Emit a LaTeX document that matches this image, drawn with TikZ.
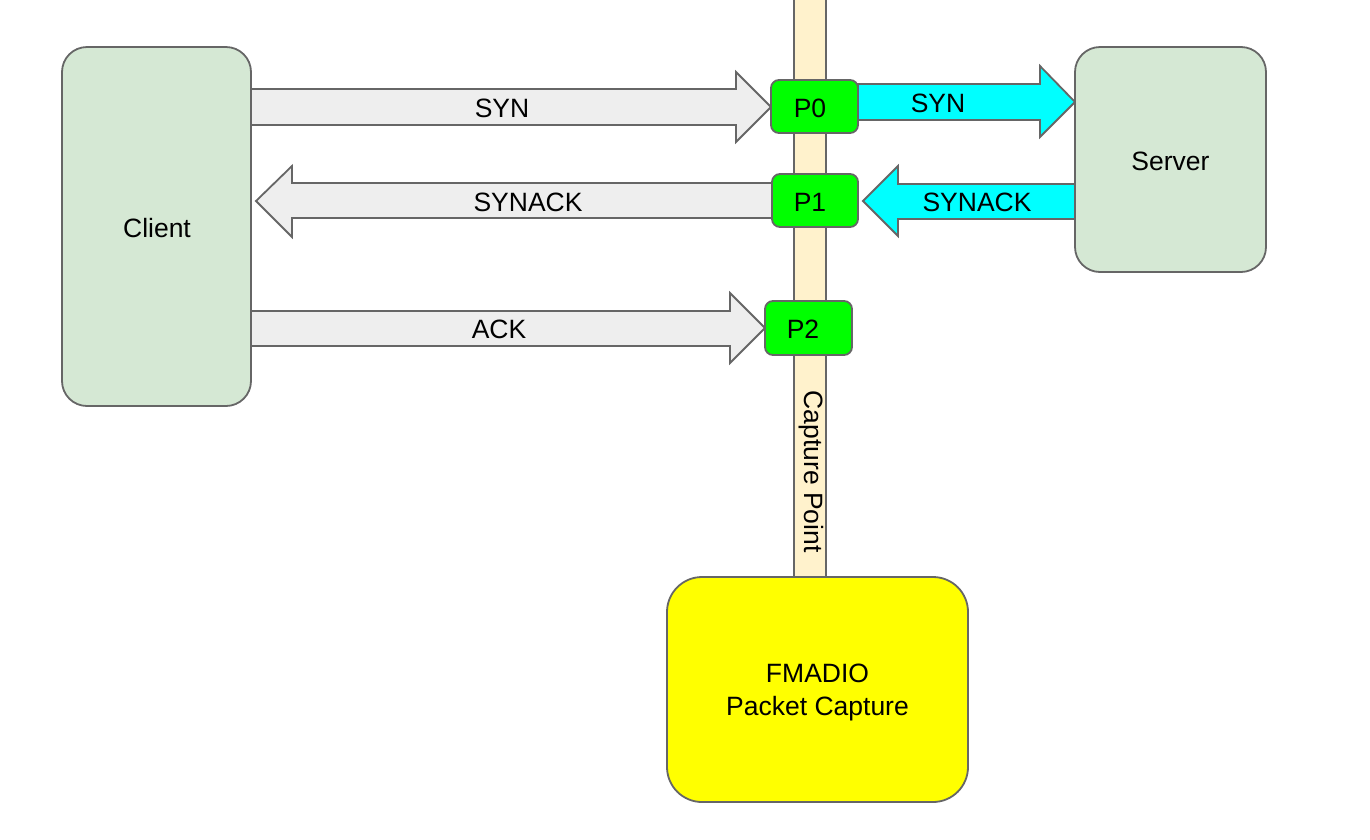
\documentclass[tikz,border=0pt]{standalone}
\usepackage{fontspec}
\setmainfont{Liberation Sans}
\definecolor{edge}{HTML}{666666}
\definecolor{hostfill}{HTML}{D5E8D4}
\definecolor{barfill}{HTML}{FFF2CC}
\definecolor{grayarrow}{HTML}{EEEEEE}
\definecolor{cyanarrow}{HTML}{00FFFF}
\definecolor{portfill}{HTML}{00FF00}
\definecolor{capfill}{HTML}{FFFF00}
\begin{document}
\begin{tikzpicture}[x=1pt,y=-1pt,
  every node/.style={font=\fontsize{26.5}{33}\selectfont, inner sep=0pt},
  hostbox/.style={draw=edge, fill=hostfill, line width=1.8pt, rounded corners=25pt},
  portbox/.style={draw=edge, fill=portfill, line width=1.8pt, rounded corners=8pt, minimum width=87pt, minimum height=53pt},
  blockgray/.style={draw=edge, fill=grayarrow, line width=1.8pt, line join=miter},
  blockcyan/.style={draw=edge, fill=cyanarrow, line width=1.8pt, line join=miter},
  lbl/.style={text=black}]
\useasboundingbox (0,0) rectangle (1370,839);
% capture bar
\node[draw=edge, fill=barfill, line width=1.8pt, minimum width=32pt, minimum height=590pt] (bar) at (810,282) {};
\node[rotate=-90] (cplabel) at (811,471.5) {Capture Point};
% block arrows
\draw[blockgray] (251,89) -- (736,89) -- (736,72) -- (771,107) -- (736,142) -- (736,125) -- (251,125) -- cycle;
\draw[blockgray] (772,183) -- (292,183) -- (292,166) -- (256,201) -- (292,237) -- (292,218) -- (772,218) -- cycle;
\draw[blockgray] (251,311) -- (730,311) -- (730,293) -- (765,328) -- (730,363) -- (730,346) -- (251,346) -- cycle;
\draw[blockcyan] (858,84) -- (1040,84) -- (1040,66) -- (1075,102) -- (1040,137) -- (1040,120) -- (858,120) -- cycle;
\draw[blockcyan] (1075,184) -- (898,184) -- (898,166) -- (863,201) -- (898,236) -- (898,219) -- (1075,219) -- cycle;
% hosts
\node[hostbox, minimum width=189pt, minimum height=359pt] (client) at (156.5,226.5) {};
\node[lbl] (clientlbl) at (157,228.5) {Client};
\node[hostbox, minimum width=191pt, minimum height=225pt] (server) at (1170.5,159.5) {};
\node[lbl] (serverlbl) at (1170.5,161.5) {Server};
\node[draw=edge, fill=capfill, line width=1.8pt, rounded corners=35pt, minimum width=301pt, minimum height=225pt] (fmadio) at (817.5,689.5) {};
\node[lbl, align=center] (fmadiolbl) at (817.5,692) {FMADIO\\Packet Capture};
% ports
\node[portbox] (p0) at (814.5,106.5) {};
\node[lbl] (p0lbl) at (810,108.5) {P0};
\node[portbox, minimum width=86pt] (p1) at (815,200.5) {};
\node[lbl] (p1lbl) at (810,202.5) {P1};
\node[portbox, minimum height=54pt] (p2) at (808.5,328) {};
\node[lbl] (p2lbl) at (803,329.5) {P2};
% labels
\node[lbl] (l1) at (502,108.5) {SYN};
\node[lbl] (l2) at (528,202.5) {SYNACK};
\node[lbl] (l3) at (499,329.5) {ACK};
\node[lbl] (l4) at (938,103.5) {SYN};
\node[lbl] (l5) at (977,202.5) {SYNACK};
\end{tikzpicture}
\end{document}
